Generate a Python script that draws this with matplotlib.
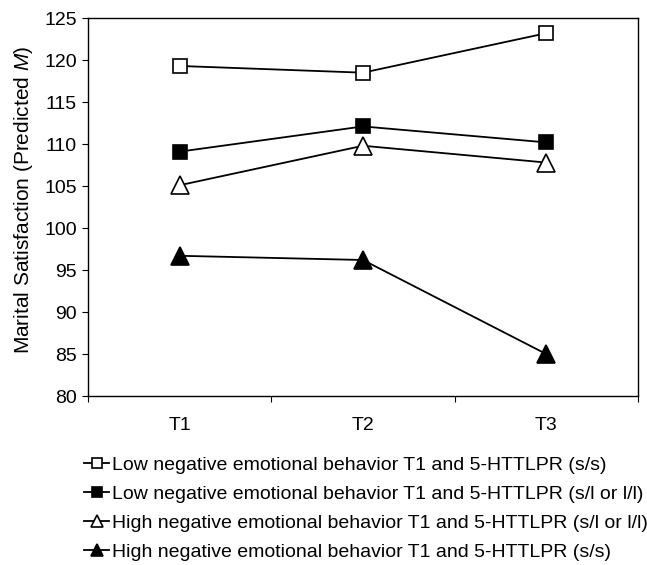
import matplotlib
matplotlib.use("Agg")
import matplotlib.pyplot as plt

plt.rcParams['font.family'] = ['Liberation Sans', 'DejaVu Sans']
plt.rcParams['mathtext.fontset'] = 'custom'
plt.rcParams['mathtext.it'] = 'Liberation Sans:italic'
plt.rcParams['mathtext.rm'] = 'Liberation Sans'

# data
waves = ['T1', 'T2', 'T3']
low_ss = [119.3, 118.5, 123.2]
low_sl = [109.1, 112.1, 110.2]
high_sl = [105.1, 109.8, 107.8]
high_ss = [96.7, 96.2, 85.0]
labels = ['Low negative emotional behavior T1 and 5-HTTLPR (s/s)',
          'Low negative emotional behavior T1 and 5-HTTLPR (s/l or l/l)',
          'High negative emotional behavior T1 and 5-HTTLPR (s/l or l/l)',
          'High negative emotional behavior T1 and 5-HTTLPR (s/s)']

fig = plt.figure(figsize=(6.47, 5.65), dpi=100)
ax = fig.add_axes([0.136, 0.299, 0.850, 0.669])

x = [i + 0.5 for i in range(len(waves))]
styles = [('s', 'white', 10.5), ('s', 'black', 10.5),
          ('^', 'white', 12.5), ('^', 'black', 12.5)]
handles = []
for series, (mk, fc, ms) in zip([low_ss, low_sl, high_sl, high_ss], styles):
    h, = ax.plot(x, series, color='black', lw=1.3, marker=mk, ms=ms,
                 mfc=fc, mec='black', mew=1.2)
    handles.append(h)

ax.set_xlim(0, 3)
ax.set_ylim(80, 125)
ax.set_yticks(range(80, 126, 5))
ax.set_xticks([0, 1, 2, 3])
ax.set_xticklabels([])
ax.set_xticks(x, minor=True)
ax.set_xticklabels(waves, minor=True)
ax.tick_params(axis='x', which='minor', length=0, pad=15, labelsize=14)
ax.tick_params(axis='x', which='major', direction='out', length=4)
ax.tick_params(axis='y', direction='out', length=4, labelsize=14, pad=4)
ax.set_ylabel('Marital Satisfaction (Predicted $\\mathit{M}$)', fontsize=15)
ax.yaxis.set_label_coords(-0.097, 0.52)
for s in ax.spines.values():
    s.set_linewidth(1.0)

fig.legend(handles, labels, loc='upper left', bbox_to_anchor=(0.118, 0.206),
           frameon=False, fontsize=14, handlelength=1.3, handletextpad=0.12,
           markerscale=0.72, labelspacing=0.58, borderaxespad=0)

fig.savefig('out.png', dpi=100)
